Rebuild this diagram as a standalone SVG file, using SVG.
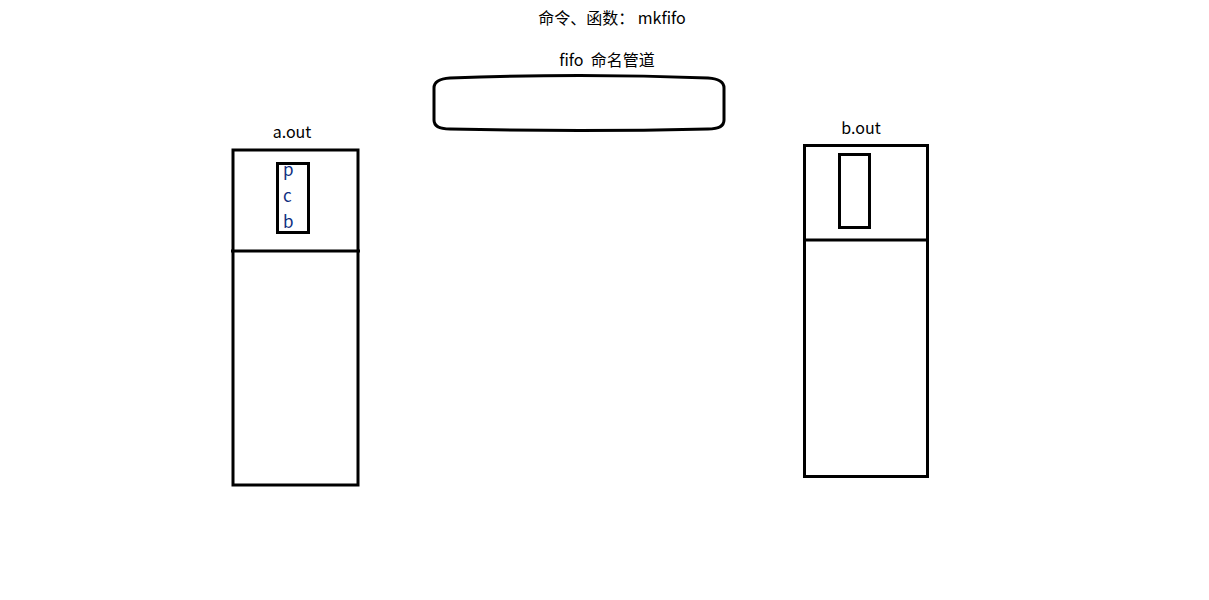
<svg xmlns="http://www.w3.org/2000/svg" width="1209" height="600" viewBox="0 0 1209 600">
<style>
.t{font-family:"Noto Sans CJK SC","Liberation Sans",sans-serif;font-size:16px;fill:#000;white-space:pre;}
.s{fill:none;stroke:#000;stroke-width:3;}
.l{font-family:"Noto Sans CJK SC","Liberation Sans",sans-serif;font-size:17px;fill:#0f2f7f;}
</style>
<rect width="1209" height="600" fill="#fff"/>
<text class="t" x="612" y="24" text-anchor="middle">命令、函数： mkfifo</text>
<text class="t" x="607" y="66" text-anchor="middle" xml:space="preserve">fifo  命名管道</text>
<g id="fifo">
<path class="s" d="M434,88 Q434,79 450,78 Q580,73 708,78 Q724,79 724,88 L724,120 Q724,129 708,129 Q580,132 450,129 Q434,129 434,120 Z"/>
</g>
<g id="a_out">
<text class="t" x="292" y="138" text-anchor="middle">a.out</text>
<rect class="s" x="233" y="150" width="125" height="335"/>
<line class="s" x1="231" y1="251" x2="360" y2="251"/>
<rect class="s" x="277.5" y="163.5" width="31" height="69"/>
<text class="l" x="283" y="176">p</text>
<text class="l" x="283" y="202">c</text>
<text class="l" x="283" y="228">b</text>
</g>
<g id="b_out">
<text class="t" x="861" y="134" text-anchor="middle">b.out</text>
<rect class="s" x="804.5" y="145.5" width="123" height="331"/>
<line class="s" x1="804" y1="240" x2="928" y2="240"/>
<rect class="s" x="839.5" y="154.5" width="30" height="73"/>
</g>
<g id="connectors"></g>
</svg>
